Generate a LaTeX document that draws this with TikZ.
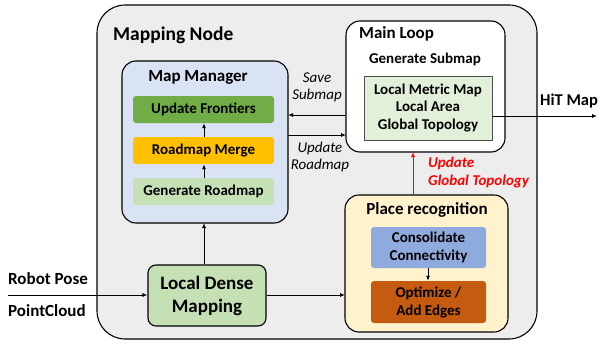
\documentclass[tikz,border=0pt]{standalone}
\usepackage{fontspec}
\setmainfont{Carlito}
\usetikzlibrary{arrows.meta}
\definecolor{bgray}{HTML}{EDEDED}
\definecolor{mmblue}{HTML}{DAE3F3}
\definecolor{frgreen}{HTML}{70AD47}
\definecolor{rmyellow}{HTML}{FFC000}
\definecolor{ltgreen}{HTML}{C5E0B4}
\definecolor{subgreen}{HTML}{E2F0D9}
\definecolor{prcream}{HTML}{FFF2CC}
\definecolor{ccblue}{HTML}{8FAADC}
\definecolor{oporange}{HTML}{C55A11}
\tikzset{
  big/.style={draw=black, line width=1.1pt, rounded corners=14pt},
  inner/.style={rounded corners=3pt, font=\fontsize{15}{18}\selectfont\bfseries, align=center, inner sep=0pt},
  arr/.style={-{Latex[length=5pt,width=4pt]}, line width=0.9pt},
  lbl/.style={font=\fontsize{15}{17}\selectfont\itshape, align=center, inner sep=0pt},
  ttl/.style={font=\fontsize{17}{20}\selectfont\bfseries, inner sep=0pt},
}
\begin{document}
\begin{tikzpicture}[x=1pt,y=-1pt]
\useasboundingbox (0,0) rectangle (600,343);
% outer
\draw[fill=bgray, line width=1.1pt, rounded corners=28pt] (97,5) rectangle (537,339);
\node[anchor=west, font=\fontsize{19.5}{22}\selectfont\bfseries, inner sep=0pt] (mn) at (113,35) {Mapping Node};
% map manager
\draw[big, fill=mmblue] (122,61) rectangle (288,223);
\node[ttl] (mmt) at (198,77) {Map Manager};
\node[inner, fill=frgreen, minimum width=141pt, minimum height=27pt] (uf) at (203.5,109.5) {Update Frontiers};
\node[inner, fill=rmyellow, minimum width=141pt, minimum height=27pt] (rm) at (203.5,150.5) {Roadmap Merge};
\node[inner, fill=ltgreen, minimum width=141pt, minimum height=27pt] (gr) at (203.5,191.5) {Generate Roadmap};
\coordinate (mmR1) at (288,115);
\coordinate (mmR2) at (288,135);
\coordinate (mmB) at (204,223);
\draw[arr] (gr.north -| 204,0) -- (rm.south -| 204,0);
\draw[arr] (rm.north -| 204,0) -- (uf.south -| 204,0);
% main loop
\draw[big, fill=white] (346,21) rectangle (505,152);
\node[anchor=west, ttl] (mlt) at (359,34) {Main Loop};
\node[font=\fontsize{15}{18}\selectfont\bfseries, inner sep=0pt] (gs) at (425,59) {Generate Submap};
\node[draw=black!70, line width=0.7pt, fill=subgreen, minimum width=128pt, minimum height=64pt, font=\fontsize{15}{17.5}\selectfont\bfseries, align=center, inner sep=0pt] (sub) at (428,108) {Local Metric Map\\Local Area\\Global Topology};
\coordinate (mlL1) at (346,115);
\coordinate (mlL2) at (346,135);
\coordinate (mlB) at (413,152);
\coordinate (hit) at (597,116);
\draw[arr] (sub.east |- hit) -- (hit);
\node[anchor=west, font=\fontsize{16.5}{19}\selectfont\bfseries, inner sep=0pt] (hitl) at (540,101) {HiT Map};
% save / update arrows
\draw[arr] (mlL1) -- (mmR1);
\draw[arr] (mmR2) -- (mlL2);
\node[lbl] (ss) at (317,87.5) {Save\\Submap};
\node[lbl] (ur) at (320,156.5) {Update\\Roadmap};
% place recognition
\draw[big, fill=prcream] (345,195) rectangle (508,332);
\node[ttl] (prt) at (427,210) {Place recognition};
\node[inner, fill=ccblue, minimum width=115pt, minimum height=41pt] (cc) at (428.5,247.5) {Consolidate\\Connectivity};
\node[inner, fill=oporange, minimum width=115pt, minimum height=42pt] (op) at (428.5,302) {Optimize /\\Add Edges};
\draw[arr] (cc.south -| 428,0) -- (op.north -| 428,0);
\coordinate (prT) at (413,195);
\coordinate (prL) at (345,295);
\draw[arr, red] (prT) -- (mlB);
\node[anchor=west, font=\fontsize{15}{18.5}\selectfont\bfseries\itshape, text=red, align=left, inner sep=0pt] (ugt) at (428,172.5) {Update\\Global Topology};
% local dense mapping
\node[draw=black, line width=1.1pt, fill=ltgreen, rounded corners=8pt, minimum width=118pt, minimum height=61pt, font=\fontsize{19}{23}\selectfont\bfseries, align=center, inner sep=0pt] (ldm) at (207,295.5) {Local Dense\\Mapping};
\draw[arr] (ldm.north -| mmB) -- (mmB);
\draw[arr] (ldm.east |- prL) -- (prL);
\coordinate (inL) at (8,295);
\draw[arr] (inL) -- (ldm.west |- inL);
\node[anchor=west, font=\fontsize{17}{20}\selectfont\bfseries, inner sep=0pt] (rp) at (8,279) {Robot Pose};
\node[anchor=west, font=\fontsize{17}{20}\selectfont\bfseries, inner sep=0pt] (pc) at (8,311) {PointCloud};
\end{tikzpicture}
\end{document}
